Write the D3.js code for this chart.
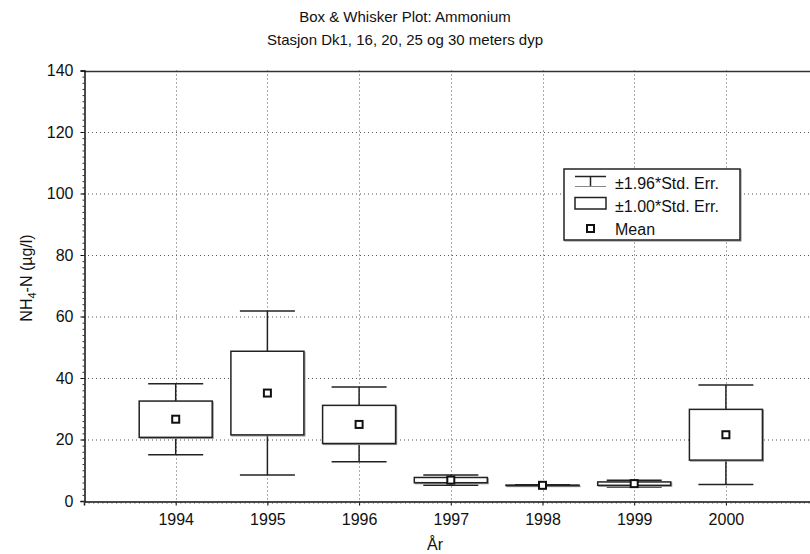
<!DOCTYPE html>
<html>
<head>
<meta charset="utf-8">
<script src="https://cdn.jsdelivr.net/npm/d3@7"></script>
<style>
  html, body { margin: 0; padding: 0; background: #fff; }
  svg { display: block; font-family: "Liberation Sans", Arial, sans-serif; }
</style>
</head>
<body>
<svg id="chart" width="810" height="554"></svg>
<script>
// Ammonium (NH4-N) by year: mean and standard error
const years   = [1994, 1995, 1996, 1997, 1998, 1999, 2000];
const means   = [26.6, 35.1, 24.9, 6.8, 5.1, 5.65, 21.55];
const stdErrs = [5.9, 13.6, 6.2, 0.85, 0.08, 0.55, 8.25];
const yTicks  = [0, 20, 40, 60, 80, 100, 120, 140];

const titleLines = ["Box & Whisker Plot: Ammonium", "Stasjon Dk1, 16, 20, 25 og 30 meters dyp"];
const legendItems = ["\u00b11.96*Std. Err.", "\u00b11.00*Std. Err.", "Mean"];

const svg = d3.select("#chart");
const W = 810, H = 554;
const plotLeft = 84, plotTop = 70.5, plotBottom = 501, plotRight = 817.6;

const x = d3.scaleLinear().domain([1993, 2001]).range([plotLeft, plotRight]);
const y = d3.scaleLinear().domain([0, 140]).range([plotBottom, plotTop]);

const rows = years.map((yr, i) => ({
  year: yr,
  mean: means[i],
  boxLo: means[i] - stdErrs[i],
  boxHi: means[i] + stdErrs[i],
  wLo: means[i] - 1.96 * stdErrs[i],
  wHi: means[i] + 1.96 * stdErrs[i]
}));

// dotted grid
const grid = svg.append("g").attr("stroke", "#555").attr("stroke-width", 1)
  .attr("stroke-dasharray", "1,3");
grid.selectAll("line.h").data(yTicks.filter(t => t > 0 && t < 140)).join("line")
  .attr("x1", plotLeft).attr("x2", W).attr("y1", d => y(d) + 0.5).attr("y2", d => y(d) + 0.5);
grid.selectAll("line.v").data(years).join("line")
  .attr("x1", d => Math.round(x(d)) + 0.5).attr("x2", d => Math.round(x(d)) + 0.5)
  .attr("y1", plotTop).attr("y2", plotBottom);

// frame: top line
svg.append("line").attr("x1", plotLeft).attr("x2", W)
  .attr("y1", Math.round(plotTop) + 0.5).attr("y2", Math.round(plotTop) + 0.5)
  .attr("stroke", "#333").attr("stroke-width", 1.5);

const yAxis = d3.axisLeft(y).tickValues(yTicks).tickSize(4).tickPadding(7);
const yg = svg.append("g").attr("transform", `translate(${plotLeft + 0.5},0)`).call(yAxis);
yg.select(".domain").attr("stroke", "#111").attr("stroke-width", 1.5);
yg.selectAll("text").attr("font-size", 16).attr("fill", "#111")
  .attr("font-family", '"Liberation Sans", Arial, sans-serif');
// minor ticks on the value axis
const yMinor = d3.axisLeft(y).tickValues(d3.range(0, 141, 2)).tickSize(2).tickFormat("");
svg.append("g").attr("transform", `translate(${plotLeft + 0.5},0)`).call(yMinor)
  .call(g => g.select(".domain").remove())
  .selectAll("line").attr("stroke", "#333");

const xAxis = d3.axisBottom(x).tickValues(years).tickFormat(d3.format("d")).tickSize(4).tickPadding(8);
const xg = svg.append("g").attr("transform", `translate(0,${plotBottom + 0.5})`).call(xAxis);
xg.select(".domain").attr("stroke", "#111").attr("stroke-width", 1.5);
xg.selectAll("text").attr("font-size", 16).attr("fill", "#111")
  .attr("font-family", '"Liberation Sans", Arial, sans-serif');
const xMinor = d3.axisBottom(x).tickValues(d3.range(1993, 2001.001, 0.05)).tickSize(2).tickFormat("");
svg.append("g").attr("transform", `translate(0,${plotBottom + 0.5})`).call(xMinor)
  .call(g => g.select(".domain").remove())
  .selectAll("line").attr("stroke", "#444");

// boxes
const boxW = 73, capW = 55, meanS = 7;
const marks = svg.append("g");
const item = marks.selectAll("g").data(rows).join("g");

// whisker stems
item.append("line")
  .attr("x1", d => x(d.year)).attr("x2", d => x(d.year))
  .attr("y1", d => y(d.wHi)).attr("y2", d => y(d.wLo))
  .attr("stroke", "#222").attr("stroke-width", 1.5);
// whisker caps
item.append("line")
  .attr("x1", d => x(d.year) - capW / 2).attr("x2", d => x(d.year) + capW / 2)
  .attr("y1", d => y(d.wHi)).attr("y2", d => y(d.wHi))
  .attr("stroke", "#222").attr("stroke-width", 1.5);
item.append("line")
  .attr("x1", d => x(d.year) - capW / 2).attr("x2", d => x(d.year) + capW / 2)
  .attr("y1", d => y(d.wLo)).attr("y2", d => y(d.wLo))
  .attr("stroke", "#222").attr("stroke-width", 1.5);
// soft grey rim behind each box
item.append("rect")
  .attr("x", d => x(d.year) - boxW / 2 + 1)
  .attr("y", d => y(d.boxHi) + 1)
  .attr("width", boxW)
  .attr("height", d => Math.max(0.5, y(d.boxLo) - y(d.boxHi)))
  .attr("fill", "none").attr("stroke", "#999").attr("stroke-width", 1.2);
// standard-error boxes
item.append("rect")
  .attr("x", d => x(d.year) - boxW / 2)
  .attr("y", d => y(d.boxHi))
  .attr("width", boxW)
  .attr("height", d => Math.max(0.5, y(d.boxLo) - y(d.boxHi)))
  .attr("fill", "#fff").attr("stroke", "#222").attr("stroke-width", 1.5);
// means
item.append("rect")
  .attr("x", d => x(d.year) - meanS / 2)
  .attr("y", d => y(d.mean) - meanS / 2)
  .attr("width", meanS).attr("height", meanS)
  .attr("fill", "#fff").attr("stroke", "#111").attr("stroke-width", 2);

// legend
const lg = svg.append("g").attr("transform", "translate(564,169)");
lg.append("rect").attr("x", 1).attr("y", 1).attr("width", 176).attr("height", 71)
  .attr("fill", "none").attr("stroke", "#999").attr("stroke-width", 1.2);
lg.append("rect").attr("width", 176).attr("height", 71)
  .attr("fill", "#fff").attr("stroke", "#222").attr("stroke-width", 1.5);
const sx0 = 11, sx1 = 42, sxm = 26.5;
// whisker symbol
lg.append("line").attr("x1", sx0).attr("x2", sx1).attr("y1", 7.5).attr("y2", 7.5).attr("stroke", "#222").attr("stroke-width", 1.5);
lg.append("line").attr("x1", sxm).attr("x2", sxm).attr("y1", 7.5).attr("y2", 17.5).attr("stroke", "#222").attr("stroke-width", 1.5);
lg.append("line").attr("x1", sx0).attr("x2", sx1).attr("y1", 17.5).attr("y2", 17.5).attr("stroke", "#888").attr("stroke-width", 1);
// box symbol
lg.append("rect").attr("x", sx0).attr("y", 28.5).attr("width", sx1 - sx0).attr("height", 11.5)
  .attr("fill", "#fff").attr("stroke", "#222").attr("stroke-width", 1.5);
// mean symbol
lg.append("rect").attr("x", sxm - 3.5).attr("y", 56).attr("width", 7).attr("height", 7)
  .attr("fill", "#fff").attr("stroke", "#111").attr("stroke-width", 2);
lg.selectAll("text").data(legendItems).join("text")
  .attr("x", 51).attr("y", (d, i) => 20 + i * 23)
  .attr("font-size", 16).attr("fill", "#111").text(d => d);

// titles
svg.append("g").selectAll("text").data(titleLines).join("text")
  .attr("x", 405).attr("y", (d, i) => 22 + i * 23)
  .attr("text-anchor", "middle").attr("font-size", 15).attr("fill", "#111")
  .text(d => d);

// axis titles
svg.append("text").attr("x", 435).attr("y", 550).attr("text-anchor", "middle")
  .attr("font-size", 16).attr("fill", "#111").text("\u00c5r");

const yl = svg.append("text")
  .attr("transform", "translate(32,278) rotate(-90)")
  .attr("text-anchor", "middle").attr("font-size", 16).attr("fill", "#111");
yl.append("tspan").text("NH");
yl.append("tspan").attr("font-size", 11).attr("dy", 4).text("4");
yl.append("tspan").attr("dy", -4).text("-N (\u00b5g/l)");
</script>
</body>
</html>
